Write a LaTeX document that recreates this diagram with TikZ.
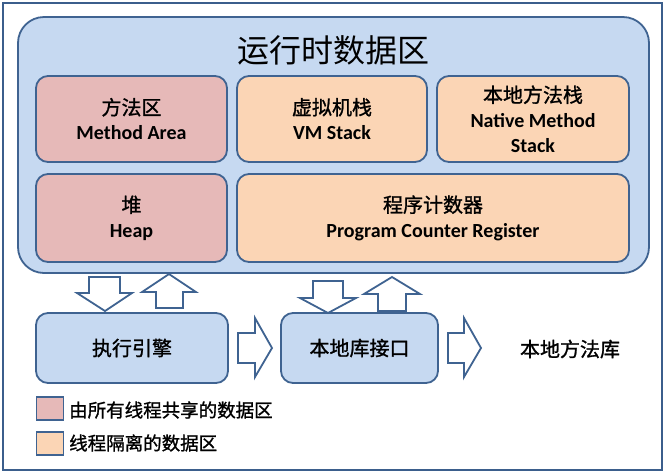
\documentclass[tikz,border=0pt]{standalone}
\usepackage{fontspec}
\setmainfont{Carlito}
\newfontfamily\cjk{Noto Sans CJK SC}
\newfontfamily\cjkm{Noto Sans CJK SC}[FakeBold=1.2]
\definecolor{bluefill}{HTML}{C6D9F1}
\definecolor{pinkfill}{HTML}{E6B9B8}
\definecolor{orangefill}{HTML}{FBD5B5}
\definecolor{edgeblue}{HTML}{3F6391}
\definecolor{framec}{HTML}{3B5E8C}
\begin{document}
\begin{tikzpicture}[x=1pt,y=-1pt,
  box/.style={draw=edgeblue,line width=1.8pt,rounded corners=12pt,align=center,inner sep=0pt,
    font=\fontsize{20}{25}\selectfont},
  shared/.style={box,fill=pinkfill},
  private/.style={box,fill=orangefill},
  unit/.style={box,fill=bluefill},
  blockarrow/.style={draw=edgeblue,line width=1.8pt,fill=white,line join=miter},
  legendbox/.style={draw=edgeblue,line width=1.5pt,inner sep=0pt,minimum width=27pt,minimum height=23pt},
  legendtext/.style={anchor=west,inner sep=0pt,font=\cjkm\fontsize{18.5}{22}\selectfont}]
\useasboundingbox (0,0) rectangle (665,475);
\node[draw=framec,line width=1.8pt,inner sep=0pt,minimum width=659pt,minimum height=467pt] (frame) at (332.5,236.5) {};
\node[draw=edgeblue,line width=1.8pt,fill=bluefill,rounded corners=26pt,inner sep=0pt,minimum width=631pt,minimum height=256pt] (rt) at (333.5,145) {};
\node[inner sep=0pt,font=\cjk\fontsize{32}{38}\selectfont] (title) at (333.5,50) {运行时数据区};
\node[shared,minimum width=191pt,minimum height=86pt] (ma) at (131.5,119) {{\cjkm 方法区}\\\textbf{Method Area}};
\node[private,minimum width=190pt,minimum height=86pt] (vm) at (332,119) {{\cjkm 虚拟机栈}\\\textbf{VM Stack}};
\node[private,minimum width=192pt,minimum height=86pt] (nms) at (533,119) {{\cjkm 本地方法栈}\\\textbf{Native Method}\\\textbf{Stack}};
\node[shared,minimum width=191pt,minimum height=88pt] (heap) at (131.5,218) {{\cjkm 堆}\\\textbf{Heap}};
\node[private,minimum width=392pt,minimum height=88pt] (pc) at (433,218) {{\cjkm 程序计数器}\\\textbf{Program Counter Register}};
\node[unit,minimum width=192pt,minimum height=70pt] (exec) at (132,348) {\cjkm 执行引擎};
\node[unit,minimum width=157pt,minimum height=70pt] (jni) at (359.5,348) {\cjkm 本地库接口};
\node[inner sep=0pt,font=\cjkm\fontsize{20}{25}\selectfont] (lib) at (570,349) {本地方法库};
% block arrows
\draw[blockarrow] (89,277) -- (120,277) -- (120,293) -- (132,293) -- (105,311) -- (77,293) -- (89,293) -- cycle;
\draw[blockarrow] (169,274) -- (196,292) -- (183,292) -- (183,308) -- (156,308) -- (156,292) -- (142,292) -- cycle;
\draw[blockarrow] (313,281) -- (343,281) -- (343,298) -- (356,298) -- (328,313) -- (300,298) -- (313,298) -- cycle;
\draw[blockarrow] (392,277) -- (420,294) -- (406,294) -- (406,311) -- (378,311) -- (378,294) -- (364,294) -- cycle;
\draw[blockarrow] (238,333) -- (255,333) -- (255,318) -- (272,348) -- (255,377) -- (255,363) -- (238,363) -- cycle;
\draw[blockarrow] (448,333) -- (464,333) -- (464,318) -- (481,348) -- (464,377) -- (464,363) -- (448,363) -- cycle;
% legend
\node[legendbox,fill=pinkfill] (lg1) at (50,408.5) {};
\node[legendtext] (lt1) at (69,410) {由所有线程共享的数据区};
\node[legendbox,fill=orangefill] (lg2) at (50,443.5) {};
\node[legendtext] (lt2) at (69,443) {线程隔离的数据区};
\end{tikzpicture}
\end{document}
